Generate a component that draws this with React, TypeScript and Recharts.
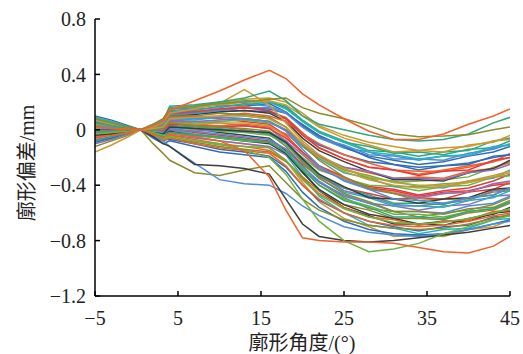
import React from 'react';
import { LineChart, Line, XAxis, YAxis, Label } from 'recharts';

const ANGLES = [-5, -3, -1, 0.5, 2, 3.2, 4, 7, 10, 13, 16, 18, 20, 22, 25, 28, 31, 34, 37, 40, 43, 45];
const X_TICKS = [-5, 5, 15, 25, 35, 45];
const Y_TICKS = [-1.2, -0.8, -0.4, 0, 0.4, 0.8];

const COLORS = ['#2f6db5', '#f0622b', '#6cb33f', '#e8393e', '#8a6fba', '#8c8a2f', '#3d3d3d', '#25b3c2', '#c99a33', '#2fa77c', '#4b8fd6'];

const m01 = [0.10, 0.07, 0.03, 0, 0.03, 0.07, 0.15, 0.16, 0.18, 0.17, 0.19, 0.13, 0.03, -0.05, -0.13, -0.19, -0.22, -0.25, -0.23, -0.19, -0.16, -0.12];
const m02 = [0.08, 0.05, 0.01, 0, 0.02, 0.05, 0.13, 0.13, 0.15, 0.17, 0.13, 0.09, -0.02, -0.13, -0.21, -0.27, -0.29, -0.32, -0.29, -0.26, -0.23, -0.17];
const m03 = [0.06, 0.04, 0.02, 0, 0.03, 0.05, 0.11, 0.12, 0.12, 0.1, 0.08, 0.02, -0.1, -0.2, -0.29, -0.33, -0.38, -0.37, -0.36, -0.34, -0.27, -0.24];
const m04 = [0.05, 0.02, 0.01, 0, 0.01, 0.03, 0.09, 0.1, 0.08, 0.06, 0.04, -0.04, -0.16, -0.27, -0.35, -0.41, -0.43, -0.47, -0.44, -0.42, -0.37, -0.32];
const m05 = [0.04, 0.03, 0.01, 0, 0.0, 0.02, 0.07, 0.06, 0.05, 0.03, 0.01, -0.08, -0.22, -0.33, -0.44, -0.48, -0.54, -0.55, -0.53, -0.51, -0.44, -0.43];
const m06 = [0.03, 0.02, 0.0, 0, -0.01, 0.0, 0.05, 0.04, 0.02, 0.0, -0.03, -0.12, -0.26, -0.38, -0.49, -0.57, -0.59, -0.63, -0.6, -0.58, -0.54, -0.49];
const m07 = [0.02, 0.01, 0.01, 0, -0.02, -0.02, 0.03, 0.01, -0.02, -0.04, -0.06, -0.15, -0.3, -0.44, -0.56, -0.62, -0.68, -0.68, -0.69, -0.64, -0.61, -0.56];
const m08 = [0.0, 0.0, 0.0, 0, -0.03, -0.04, 0.0, -0.03, -0.05, -0.07, -0.09, -0.18, -0.34, -0.48, -0.6, -0.69, -0.71, -0.75, -0.72, -0.71, -0.65, -0.64];
const m09 = [-0.02, -0.02, 0.0, 0, -0.03, -0.05, -0.02, -0.05, -0.08, -0.1, -0.13, -0.22, -0.38, -0.52, -0.64, -0.7, -0.77, -0.76, -0.77, -0.72, -0.7, -0.65];
const m10 = [0.09, 0.06, 0.02, 0, 0.03, 0.07, 0.16, 0.17, 0.2, 0.21, 0.2, 0.17, 0.07, -0.01, -0.08, -0.15, -0.16, -0.19, -0.16, -0.15, -0.08, -0.06];
const m11 = [0.07, 0.04, 0.02, 0, 0.02, 0.05, 0.14, 0.15, 0.16, 0.19, 0.17, 0.13, 0.02, -0.06, -0.13, -0.16, -0.21, -0.21, -0.22, -0.17, -0.14, -0.1];
const m12 = [0.06, 0.04, 0.01, 0, 0.02, 0.04, 0.12, 0.12, 0.13, 0.14, 0.13, 0.08, -0.03, -0.11, -0.18, -0.23, -0.25, -0.29, -0.26, -0.25, -0.19, -0.18];
const m13 = [-0.04, -0.03, -0.01, 0, 0.0, 0.0, 0.05, 0.04, 0.03, 0.04, 0.02, -0.03, -0.12, -0.2, -0.27, -0.31, -0.35, -0.34, -0.35, -0.3, -0.28, -0.23];
const m14 = [-0.06, -0.04, -0.02, 0, -0.02, -0.02, 0.02, 0.0, -0.01, -0.02, -0.04, -0.1, -0.2, -0.29, -0.35, -0.4, -0.41, -0.44, -0.41, -0.4, -0.34, -0.33];
const m15 = [-0.08, -0.06, -0.02, 0, -0.02, -0.03, 0.01, -0.02, -0.04, -0.06, -0.08, -0.14, -0.25, -0.34, -0.42, -0.46, -0.5, -0.49, -0.5, -0.45, -0.43, -0.38];
const m16 = [-0.1, -0.07, -0.03, 0, -0.04, -0.06, -0.04, -0.06, -0.08, -0.1, -0.12, -0.18, -0.29, -0.38, -0.47, -0.53, -0.55, -0.58, -0.55, -0.54, -0.48, -0.47];
const m17 = [-0.12, -0.08, -0.04, 0, -0.05, -0.08, -0.06, -0.09, -0.12, -0.14, -0.16, -0.23, -0.34, -0.44, -0.54, -0.58, -0.64, -0.64, -0.65, -0.6, -0.58, -0.53];
const m18 = [0.03, 0.02, 0.01, 0, 0.02, 0.03, 0.1, 0.11, 0.13, 0.14, 0.12, 0.06, -0.06, -0.15, -0.23, -0.3, -0.36, -0.36, -0.37, -0.31, -0.28, -0.22];
const m19 = [0.01, 0.01, 0.0, 0, 0.01, 0.02, 0.08, 0.07, 0.09, 0.08, 0.06, 0.0, -0.12, -0.21, -0.31, -0.35, -0.41, -0.41, -0.42, -0.37, -0.35, -0.29];
const m20 = [-0.01, 0.0, 0.0, 0, 0.0, 0.0, 0.05, 0.04, 0.05, 0.05, 0.03, -0.05, -0.17, -0.27, -0.35, -0.43, -0.45, -0.49, -0.46, -0.45, -0.39, -0.38];
const m21 = [-0.03, -0.02, -0.01, 0, -0.01, -0.02, 0.03, 0.02, 0.01, -0.01, -0.03, -0.1, -0.23, -0.33, -0.42, -0.47, -0.53, -0.53, -0.54, -0.49, -0.47, -0.42];
const m22 = [-0.05, -0.03, -0.01, 0, -0.02, -0.03, 0.01, -0.01, -0.03, -0.05, -0.07, -0.14, -0.27, -0.37, -0.48, -0.53, -0.59, -0.59, -0.6, -0.55, -0.53, -0.48];
const m23 = [0.05, 0.03, 0.01, 0, 0.02, 0.04, 0.11, 0.12, 0.14, 0.16, 0.15, 0.12, 0.04, -0.04, -0.12, -0.2, -0.25, -0.27, -0.26, -0.24, -0.2, -0.18];
const m24 = [0.02, 0.01, 0.0, 0, 0.01, 0.03, 0.09, 0.09, 0.1, 0.12, 0.1, 0.06, -0.03, -0.1, -0.18, -0.24, -0.29, -0.3, -0.3, -0.27, -0.23, -0.2];
const m25 = [0.0, 0.0, 0.0, 0, 0.0, 0.01, 0.06, 0.05, 0.06, 0.07, 0.05, 0.0, -0.1, -0.2, -0.28, -0.35, -0.37, -0.41, -0.39, -0.38, -0.34, -0.33];
const m26 = [-0.02, -0.01, -0.01, 0, -0.01, -0.01, 0.04, 0.03, 0.02, 0.03, 0.01, -0.06, -0.16, -0.26, -0.34, -0.42, -0.44, -0.48, -0.45, -0.44, -0.4, -0.39];
const m27 = [-0.07, -0.05, -0.02, 0, -0.02, -0.03, 0.0, -0.01, 0.0, -0.01, -0.02, -0.08, -0.18, -0.28, -0.36, -0.43, -0.46, -0.49, -0.46, -0.45, -0.39, -0.37];
const m28 = [0.04, 0.03, 0.01, 0, 0.01, 0.03, 0.1, 0.1, 0.12, 0.11, 0.09, 0.02, -0.11, -0.22, -0.34, -0.42, -0.46, -0.51, -0.5, -0.5, -0.45, -0.44];
const m29 = [-0.04, -0.03, -0.01, 0, -0.03, -0.04, -0.01, -0.04, -0.06, -0.08, -0.1, -0.17, -0.31, -0.43, -0.54, -0.61, -0.64, -0.68, -0.66, -0.66, -0.6, -0.59];
const m30 = [0.0, 0.0, 0.0, 0, -0.01, -0.02, 0.02, 0.01, 0.0, -0.01, -0.02, -0.1, -0.24, -0.35, -0.45, -0.49, -0.55, -0.55, -0.56, -0.51, -0.49, -0.44];
const m31 = [0.08, 0.05, 0.02, 0, 0.03, 0.06, 0.15, 0.17, 0.19, 0.22, 0.23, 0.2, 0.12, 0.03, -0.04, -0.09, -0.12, -0.15, -0.13, -0.12, -0.08, -0.07];
const m32 = [0.06, 0.04, 0.02, 0, 0.03, 0.05, 0.13, 0.14, 0.17, 0.18, 0.2, 0.16, 0.06, -0.02, -0.09, -0.12, -0.17, -0.16, -0.18, -0.14, -0.13, -0.08];
const m33 = [0.03, 0.02, 0.01, 0, 0.02, 0.04, 0.11, 0.12, 0.14, 0.16, 0.16, 0.12, 0.02, -0.06, -0.11, -0.18, -0.19, -0.22, -0.19, -0.19, -0.13, -0.11];
const m34 = [-0.09, -0.06, -0.02, 0, -0.04, -0.07, -0.07, -0.1, -0.14, -0.16, -0.19, -0.27, -0.4, -0.51, -0.6, -0.66, -0.7, -0.73, -0.7, -0.69, -0.63, -0.62];
const m35 = [-0.06, -0.04, -0.02, 0, -0.03, -0.05, -0.04, -0.07, -0.1, -0.12, -0.15, -0.22, -0.35, -0.46, -0.56, -0.63, -0.65, -0.69, -0.66, -0.65, -0.59, -0.58];
const m36 = [0.01, 0.01, 0.0, 0, -0.02, -0.04, -0.02, -0.04, -0.06, -0.08, -0.09, -0.16, -0.28, -0.4, -0.5, -0.55, -0.61, -0.61, -0.63, -0.59, -0.57, -0.52];
const m37 = [0.07, 0.05, 0.02, 0, 0.02, 0.05, 0.12, 0.13, 0.15, 0.16, 0.14, 0.08, -0.04, -0.13, -0.21, -0.27, -0.29, -0.33, -0.3, -0.29, -0.22, -0.2];
const m38 = [-0.03, -0.02, -0.01, 0, 0.0, 0.0, 0.06, 0.06, 0.07, 0.08, 0.06, 0.0, -0.1, -0.19, -0.27, -0.3, -0.35, -0.35, -0.36, -0.31, -0.29, -0.25];
const m39 = [0.02, 0.01, 0.0, 0, 0.0, 0.01, 0.05, 0.03, 0.02, 0.01, -0.01, -0.09, -0.23, -0.35, -0.46, -0.52, -0.59, -0.59, -0.61, -0.57, -0.56, -0.51];
const m40 = [-0.05, -0.03, -0.01, 0, -0.02, -0.03, 0.02, 0.01, 0.0, -0.01, -0.02, -0.09, -0.21, -0.32, -0.41, -0.49, -0.5, -0.53, -0.5, -0.49, -0.43, -0.42];
const m41 = [0.09, 0.06, 0.02, 0, 0.04, 0.07, 0.16, 0.16, 0.19, 0.2, 0.2, 0.15, 0.06, -0.02, -0.09, -0.16, -0.18, -0.21, -0.19, -0.18, -0.12, -0.11];
const m42 = [0.07, 0.04, 0.01, 0, 0.03, 0.06, 0.15, 0.17, 0.18, 0.2, 0.21, 0.18, 0.1, 0.02, -0.06, -0.11, -0.16, -0.15, -0.16, -0.11, -0.09, -0.04];
const m43 = [-0.08, -0.05, -0.02, 0, -0.03, -0.05, -0.02, -0.04, -0.05, -0.07, -0.09, -0.16, -0.29, -0.4, -0.51, -0.56, -0.63, -0.63, -0.64, -0.59, -0.57, -0.52];
const m44 = [0.04, 0.02, 0.01, 0, 0.01, 0.02, 0.08, 0.08, 0.09, 0.08, 0.06, -0.01, -0.14, -0.26, -0.37, -0.43, -0.5, -0.51, -0.53, -0.49, -0.47, -0.42];
const l01 = [0.0, 0.0, 0.0, 0, -0.06, -0.1, -0.08, -0.12, -0.16, -0.18, -0.2, -0.3, -0.45, -0.56, -0.66, -0.72, -0.75, -0.76, -0.75, -0.72, -0.68, -0.65];
const l02 = [0.02, 0.01, 0.0, 0, -0.05, -0.08, -0.06, -0.1, -0.13, -0.15, -0.17, -0.26, -0.4, -0.5, -0.6, -0.66, -0.69, -0.7, -0.69, -0.66, -0.62, -0.6];
const l03 = [-0.03, -0.02, -0.01, 0, -0.04, -0.07, -0.05, -0.08, -0.11, -0.12, -0.13, -0.22, -0.36, -0.47, -0.57, -0.63, -0.67, -0.68, -0.67, -0.64, -0.6, -0.57];

const goldLeft = [-0.16, -0.11, -0.05, 0, 0.01, 0.02, 0.08, 0.09, 0.1, 0.1, 0.08, 0.02, -0.1, -0.2, -0.3, -0.36, -0.4, -0.42, -0.41, -0.38, -0.34, -0.31];
const oliveLow = [-0.01, -0.01, 0.0, 0, -0.1, -0.17, -0.22, -0.31, -0.33, -0.29, -0.26, -0.38, -0.5, -0.58, -0.65, -0.69, -0.71, -0.72, -0.71, -0.68, -0.64, -0.61];
const blueLow = [-0.02, -0.015, -0.01, 0, -0.05, -0.08, -0.12, -0.24, -0.36, -0.39, -0.4, -0.46, -0.55, -0.62, -0.7, -0.74, -0.76, -0.77, -0.75, -0.72, -0.68, -0.66];
const grayLow = [-0.04, -0.03, -0.01, 0, -0.05, -0.1, -0.12, -0.25, -0.26, -0.28, -0.32, -0.5, -0.68, -0.77, -0.8, -0.81, -0.8, -0.78, -0.76, -0.74, -0.71, -0.69];
const greenLow = [-0.03, -0.02, -0.01, 0, -0.02, -0.04, -0.05, -0.08, -0.1, -0.15, -0.2, -0.32, -0.5, -0.66, -0.8, -0.88, -0.86, -0.82, -0.75, -0.7, -0.65, -0.62];
const orangeLow = [-0.05, -0.04, -0.02, 0, -0.03, -0.06, -0.03, -0.05, -0.08, -0.15, -0.34, -0.58, -0.78, -0.8, -0.81, -0.81, -0.82, -0.85, -0.88, -0.89, -0.84, -0.77];
const goldPeak = [0.04, 0.03, 0.01, 0, 0.02, 0.05, 0.12, 0.15, 0.19, 0.29, 0.18, 0.05, -0.08, -0.18, -0.28, -0.34, -0.38, -0.4, -0.4, -0.37, -0.33, -0.3];
const tealTop = [0.05, 0.03, 0.01, 0, 0.03, 0.06, 0.17, 0.18, 0.2, 0.23, 0.28, 0.21, 0.1, 0.04, 0.0, -0.04, -0.07, -0.08, -0.07, -0.03, 0.05, 0.09];
const oliveTop = [0.08, 0.05, 0.02, 0, 0.04, 0.08, 0.15, 0.17, 0.19, 0.2, 0.22, 0.23, 0.16, 0.12, 0.08, 0.03, -0.03, -0.05, -0.045, -0.035, 0.0, 0.02];
const orangeTop = [0.02, 0.01, 0.005, 0, 0.03, 0.06, 0.14, 0.21, 0.28, 0.36, 0.43, 0.37, 0.26, 0.18, 0.08, -0.01, -0.07, -0.07, -0.03, 0.04, 0.1, 0.15];

const MAIN = [m01, m02, m03, m04, m05, m06, m07, m08, m09, m10, m11, m12, m13, m14, m15, m16, m17, m18, m19, m20, m21, m22, m23, m24, m25, m26, m27, m28, m29, m30, m31, m32, m33, m34, m35, m36, m37, m38, m39, m40, m41, m42, m43, m44, l01, l02, l03];
const OUTLIERS = [goldLeft, oliveLow, blueLow, grayLow, greenLow, orangeLow, goldPeak, tealTop, oliveTop, orangeTop];
const OUTLIER_COLORS = ['#c99a33', '#8c8a2f', '#4b8fd6', '#3d3d3d', '#6cb33f', '#f0622b', '#c99a33', '#2fa77c', '#8c8a2f', '#f0622b'];

const ALL = [...MAIN, ...OUTLIERS];
const ALL_COLORS = [...MAIN.map((_, i) => COLORS[i % COLORS.length]), ...OUTLIER_COLORS];

const data = ANGLES.map((a, i) => {
  const row: Record<string, number> = { angle: a };
  ALL.forEach((s, j) => { row['s' + j] = s[i]; });
  return row;
});

const fmt = (v: number) => (v === 0 ? '0' : v < 0 ? '\u2212' + Math.abs(v) : String(v));

const FONT = '"Liberation Serif", "Times New Roman", "Noto Sans CJK SC", serif';
const tickStyle = { fontSize: 20, fill: '#222', fontFamily: FONT };

export default function App() {
  return (
    <div style={{ position: 'absolute', left: 0, top: 0 }}>
      <LineChart width={523} height={354} data={data} margin={{ top: 19, right: 13, bottom: 0, left: 0 }}>
        <XAxis
          type="number"
          dataKey="angle"
          domain={[-5, 45]}
          ticks={X_TICKS}
          interval={0}
          tickFormatter={fmt}
          height={58}
          tickSize={-5}
          tickMargin={20}
          tick={tickStyle}
          axisLine={{ stroke: '#000', strokeWidth: 1.5 }}
          tickLine={{ stroke: '#000', strokeWidth: 1.5 }}
          allowDataOverflow
        >
          <Label
            content={() => (
              <text x={302} y={350} textAnchor="middle" fontSize={20} fill="#222" fontFamily={FONT}>
                廓形角度/(°)
              </text>
            )}
          />
        </XAxis>
        <YAxis
          type="number"
          domain={[-1.2, 0.8]}
          ticks={Y_TICKS}
          interval={0}
          tickFormatter={fmt}
          width={95}
          tickSize={-5}
          tickMargin={14}
          tick={tickStyle}
          axisLine={{ stroke: '#000', strokeWidth: 1.5 }}
          tickLine={{ stroke: '#000', strokeWidth: 1.5 }}
          allowDataOverflow
        >
          <Label
            content={() => (
              <text
                x={34}
                y={163}
                textAnchor="middle"
                fontSize={20}
                fill="#222"
                fontFamily={FONT}
                transform="rotate(-90 34 163)"
              >
                廓形偏差/mm
              </text>
            )}
          />
        </YAxis>
        {ALL.map((_, j) => (
          <Line
            key={j}
            type="linear"
            dataKey={'s' + j}
            stroke={ALL_COLORS[j]}
            strokeWidth={1.5}
            dot={false}
            activeDot={false}
            isAnimationActive={false}
          />
        ))}
      </LineChart>
    </div>
  );
}
